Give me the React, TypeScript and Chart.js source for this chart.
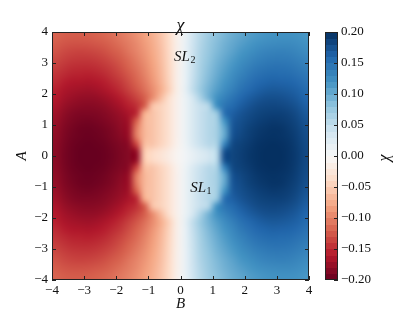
import React, { useEffect, useRef } from "react";
import { Chart, registerables } from "chart.js";

Chart.register(...registerables);

// ---------- data ----------
const B_CENTERS = [-3.875, -3.625, -3.375, -3.125, -2.875, -2.625, -2.375, -2.125, -1.875, -1.625, -1.375, -1.125, -0.875, -0.625, -0.375, -0.125,
  0.125, 0.375, 0.625, 0.875, 1.125, 1.375, 1.625, 1.875, 2.125, 2.375, 2.625, 2.875, 3.125, 3.375, 3.625, 3.875];
const A_CENTERS = [3.875, 3.625, 3.375, 3.125, 2.875, 2.625, 2.375, 2.125, 1.875, 1.625, 1.375, 1.125, 0.875, 0.625, 0.375, 0.125,
  -0.125, -0.375, -0.625, -0.875, -1.125, -1.375, -1.625, -1.875, -2.125, -2.375, -2.625, -2.875, -3.125, -3.375, -3.625, -3.875];

// chi values, one row per A (top to bottom), one column per B (left to right)
const CHI_ROWS = [
  [-.118,-.121,-.122,-.122,-.121,-.119,-.116,-.112,-.106,-.100,-.092,-.083,-.072,-.058,-.040,-.012, .012,.040,.058,.072,.083,.092,.100,.106,.112,.116,.119,.121,.122,.122,.121,.118],
  [-.122,-.126,-.128,-.128,-.127,-.125,-.122,-.117,-.111,-.104,-.096,-.086,-.075,-.060,-.041,-.013, .013,.041,.060,.075,.086,.096,.104,.111,.117,.122,.125,.127,.128,.128,.126,.122],
  [-.127,-.132,-.135,-.136,-.135,-.133,-.129,-.123,-.117,-.108,-.099,-.089,-.077,-.062,-.042,-.013, .013,.042,.062,.077,.089,.099,.108,.117,.123,.129,.133,.135,.136,.135,.132,.127],
  [-.133,-.138,-.141,-.142,-.142,-.140,-.136,-.130,-.123,-.114,-.104,-.093,-.080,-.064,-.043,-.013, .013,.043,.064,.080,.093,.104,.114,.123,.130,.136,.140,.142,.142,.141,.138,.133],
  [-.139,-.144,-.148,-.149,-.149,-.147,-.143,-.137,-.129,-.119,-.109,-.097,-.083,-.066,-.044,-.014, .014,.044,.066,.083,.097,.109,.119,.129,.137,.143,.147,.149,.149,.148,.144,.139],
  [-.145,-.150,-.154,-.155,-.156,-.154,-.150,-.143,-.135,-.125,-.114,-.101,-.086,-.068,-.045,-.014, .014,.045,.068,.086,.101,.114,.125,.135,.143,.150,.154,.156,.155,.154,.150,.145],
  [-.150,-.157,-.161,-.162,-.163,-.161,-.157,-.150,-.142,-.131,-.119,-.106,-.090,-.071,-.047,-.014, .014,.047,.071,.090,.106,.119,.131,.142,.150,.157,.161,.163,.162,.161,.157,.150],
  [-.156,-.163,-.167,-.169,-.170,-.168,-.164,-.157,-.149,-.138,-.126,-.112,-.095,-.075,-.049,-.015, .015,.049,.075,.095,.112,.126,.138,.149,.157,.164,.168,.170,.169,.167,.163,.156],
  [-.160,-.168,-.173,-.176,-.177,-.176,-.172,-.166,-.158,-.148,-.136,-.121,-.095,-.065,-.036,-.012, .012,.036,.065,.095,.121,.136,.148,.158,.166,.172,.176,.177,.176,.173,.168,.160],
  [-.165,-.174,-.179,-.182,-.183,-.182,-.179,-.173,-.166,-.156,-.147,-.122,-.060,-.047,-.032,-.011, .011,.032,.047,.060,.122,.147,.156,.166,.173,.179,.182,.183,.182,.179,.174,.165],
  [-.170,-.179,-.185,-.188,-.188,-.187,-.184,-.179,-.173,-.165,-.150,-.075,-.058,-.047,-.032,-.011, .011,.032,.047,.058,.075,.150,.165,.173,.179,.184,.187,.188,.188,.185,.179,.170],
  [-.174,-.183,-.189,-.192,-.193,-.191,-.188,-.183,-.177,-.169,-.120,-.068,-.058,-.047,-.032,-.011, .011,.032,.047,.058,.068,.120,.169,.177,.183,.188,.191,.193,.192,.189,.183,.174],
  [-.177,-.186,-.192,-.196,-.197,-.195,-.192,-.187,-.180,-.171,-.105,-.068,-.058,-.047,-.032,-.011, .011,.032,.047,.058,.068,.105,.171,.180,.187,.192,.195,.197,.196,.192,.186,.177],
  [-.179,-.188,-.194,-.197,-.198,-.197,-.194,-.189,-.183,-.174,-.105,-.068,-.058,-.047,-.032,-.011, .011,.032,.047,.058,.068,.105,.174,.183,.189,.194,.197,.198,.197,.194,.188,.179],
  [-.181,-.190,-.196,-.199,-.200,-.199,-.197,-.192,-.187,-.181,-.135,-.064,-.056,-.045,-.030,-.010, .010,.030,.045,.056,.064,.135,.181,.187,.192,.197,.199,.200,.199,.196,.190,.181],
  [-.182,-.191,-.197,-.200,-.200,-.200,-.198,-.194,-.189,-.184,-.176,-.055,-.040,-.030,-.018,-.006, .006,.018,.030,.040,.055,.176,.184,.189,.194,.198,.200,.200,.200,.197,.191,.182],
  [-.182,-.191,-.197,-.200,-.200,-.200,-.198,-.194,-.189,-.184,-.176,-.055,-.040,-.030,-.018,-.006, .006,.018,.030,.040,.055,.176,.184,.189,.194,.198,.200,.200,.200,.197,.191,.182],
  [-.181,-.190,-.196,-.199,-.200,-.199,-.197,-.192,-.187,-.181,-.135,-.064,-.056,-.045,-.030,-.010, .010,.030,.045,.056,.064,.135,.181,.187,.192,.197,.199,.200,.199,.196,.190,.181],
  [-.179,-.188,-.194,-.197,-.198,-.197,-.194,-.189,-.183,-.174,-.105,-.068,-.058,-.047,-.032,-.011, .011,.032,.047,.058,.068,.105,.174,.183,.189,.194,.197,.198,.197,.194,.188,.179],
  [-.177,-.186,-.192,-.196,-.197,-.195,-.192,-.187,-.180,-.171,-.105,-.068,-.058,-.047,-.032,-.011, .011,.032,.047,.058,.068,.105,.171,.180,.187,.192,.195,.197,.196,.192,.186,.177],
  [-.174,-.183,-.189,-.192,-.193,-.191,-.188,-.183,-.177,-.169,-.120,-.068,-.058,-.047,-.032,-.011, .011,.032,.047,.058,.068,.120,.169,.177,.183,.188,.191,.193,.192,.189,.183,.174],
  [-.170,-.179,-.185,-.188,-.188,-.187,-.184,-.179,-.173,-.165,-.150,-.075,-.058,-.047,-.032,-.011, .011,.032,.047,.058,.075,.150,.165,.173,.179,.184,.187,.188,.188,.185,.179,.170],
  [-.165,-.174,-.179,-.182,-.183,-.182,-.179,-.173,-.166,-.156,-.147,-.122,-.060,-.047,-.032,-.011, .011,.032,.047,.060,.122,.147,.156,.166,.173,.179,.182,.183,.182,.179,.174,.165],
  [-.160,-.168,-.173,-.176,-.177,-.176,-.172,-.166,-.158,-.148,-.136,-.121,-.095,-.065,-.036,-.012, .012,.036,.065,.095,.121,.136,.148,.158,.166,.172,.176,.177,.176,.173,.168,.160],
  [-.156,-.163,-.167,-.169,-.170,-.168,-.164,-.157,-.149,-.138,-.126,-.112,-.095,-.075,-.049,-.015, .015,.049,.075,.095,.112,.126,.138,.149,.157,.164,.168,.170,.169,.167,.163,.156],
  [-.150,-.157,-.161,-.162,-.163,-.161,-.157,-.150,-.142,-.131,-.119,-.106,-.090,-.071,-.047,-.014, .014,.047,.071,.090,.106,.119,.131,.142,.150,.157,.161,.163,.162,.161,.157,.150],
  [-.145,-.150,-.154,-.155,-.156,-.154,-.150,-.143,-.135,-.125,-.114,-.101,-.086,-.068,-.045,-.014, .014,.045,.068,.086,.101,.114,.125,.135,.143,.150,.154,.156,.155,.154,.150,.145],
  [-.139,-.144,-.148,-.149,-.149,-.147,-.143,-.137,-.129,-.119,-.109,-.097,-.083,-.066,-.044,-.014, .014,.044,.066,.083,.097,.109,.119,.129,.137,.143,.147,.149,.149,.148,.144,.139],
  [-.133,-.138,-.141,-.142,-.142,-.140,-.136,-.130,-.123,-.114,-.104,-.093,-.080,-.064,-.043,-.013, .013,.043,.064,.080,.093,.104,.114,.123,.130,.136,.140,.142,.142,.141,.138,.133],
  [-.127,-.132,-.135,-.136,-.135,-.133,-.129,-.123,-.117,-.108,-.099,-.089,-.077,-.062,-.042,-.013, .013,.042,.062,.077,.089,.099,.108,.117,.123,.129,.133,.135,.136,.135,.132,.127],
  [-.122,-.126,-.128,-.128,-.127,-.125,-.122,-.117,-.111,-.104,-.096,-.086,-.075,-.060,-.041,-.013, .013,.041,.060,.075,.086,.096,.104,.111,.117,.122,.125,.127,.128,.128,.126,.122],
  [-.118,-.121,-.122,-.122,-.121,-.119,-.116,-.112,-.106,-.100,-.092,-.083,-.072,-.058,-.040,-.012, .012,.040,.058,.072,.083,.092,.100,.106,.112,.116,.119,.121,.122,.122,.121,.118],
];

const X_TICKS = [-4, -3, -2, -1, 0, 1, 2, 3, 4];
const Y_TICKS = [-4, -3, -2, -1, 0, 1, 2, 3, 4];
const CBAR_TICKS = [-0.2, -0.15, -0.1, -0.05, 0, 0.05, 0.1, 0.15, 0.2];
const VMIN = -0.2;
const VMAX = 0.2;

const ANNOTATIONS = [
  { main: "SL", sub: "2", b: -0.2, a: 3.19 },
  { main: "SL", sub: "1", b: 0.3, a: -1.03 },
];

const TITLE = "χ";
const X_LABEL = "B";
const Y_LABEL = "A";
const CBAR_LABEL = "χ";

// ---------- style ----------
const FONT = "'Liberation Serif', 'DejaVu Serif', serif";
const RDBU: number[][] = [
  [103, 0, 31], [178, 24, 43], [214, 96, 77], [244, 165, 130], [253, 219, 199],
  [247, 247, 247], [209, 229, 240], [146, 197, 222], [67, 147, 195], [33, 102, 172], [5, 48, 97],
];

function cmap(v: number): number[] {
  let t = (v - VMIN) / (VMAX - VMIN);
  t = Math.max(0, Math.min(1, t));
  const s = t * (RDBU.length - 1);
  const i = Math.min(Math.floor(s), RDBU.length - 2);
  const f = s - i;
  const c0 = RDBU[i], c1 = RDBU[i + 1];
  return [0, 1, 2].map((k) => Math.round(c0[k] + (c1[k] - c0[k]) * f));
}

const fmtInt = (v: number) => (v < 0 ? "\u2212" + Math.abs(v) : String(v));
const fmtCbar = (v: number) => (v < 0 ? "\u2212" + Math.abs(v).toFixed(2) : Math.abs(v).toFixed(2));

const heatmapPlugin = {
  id: "heatmap",
  beforeDatasetsDraw(chart: any) {
    const { ctx } = chart;
    const x = chart.scales.x, y = chart.scales.y;
    const nx = B_CENTERS.length, ny = A_CENTERS.length;
    const off = document.createElement("canvas");
    off.width = nx;
    off.height = ny;
    const octx = off.getContext("2d")!;
    const img = octx.createImageData(nx, ny);
    for (let j = 0; j < ny; j++) {
      for (let i = 0; i < nx; i++) {
        const c = cmap(CHI_ROWS[j][i]);
        const p = (j * nx + i) * 4;
        img.data[p] = c[0];
        img.data[p + 1] = c[1];
        img.data[p + 2] = c[2];
        img.data[p + 3] = 255;
      }
    }
    octx.putImageData(img, 0, 0);
    const dB = B_CENTERS[1] - B_CENTERS[0];
    const dA = A_CENTERS[0] - A_CENTERS[1];
    const x0 = x.getPixelForValue(B_CENTERS[0] - dB / 2);
    const x1 = x.getPixelForValue(B_CENTERS[nx - 1] + dB / 2);
    const y0 = y.getPixelForValue(A_CENTERS[0] + dA / 2);
    const y1 = y.getPixelForValue(A_CENTERS[ny - 1] - dA / 2);
    ctx.save();
    ctx.imageSmoothingEnabled = true;
    ctx.imageSmoothingQuality = "high";
    ctx.drawImage(off, x0, y0, x1 - x0, y1 - y0);
    ctx.restore();
  },
  afterDraw(chart: any) {
    const { ctx, chartArea: ca } = chart;
    const x = chart.scales.x, y = chart.scales.y;
    ctx.save();
    ctx.strokeStyle = "#222";
    ctx.lineWidth = 1;
    ctx.strokeRect(Math.round(ca.left) + 0.5, Math.round(ca.top) + 0.5, Math.round(ca.right - ca.left) - 1, Math.round(ca.bottom - ca.top) - 1);
    ctx.beginPath();
    const tl = 4;
    X_TICKS.forEach((v) => {
      const px = Math.round(x.getPixelForValue(v)) + 0.5;
      ctx.moveTo(px, ca.bottom);
      ctx.lineTo(px, ca.bottom - tl);
      ctx.moveTo(px, ca.top);
      ctx.lineTo(px, ca.top + tl);
    });
    Y_TICKS.forEach((v) => {
      const py = Math.round(y.getPixelForValue(v)) + 0.5;
      ctx.moveTo(ca.left, py);
      ctx.lineTo(ca.left + tl, py);
      ctx.moveTo(ca.right, py);
      ctx.lineTo(ca.right - tl, py);
    });
    ctx.stroke();

    // annotations
    ctx.fillStyle = "#111";
    ctx.textBaseline = "middle";
    ctx.textAlign = "left";
    ANNOTATIONS.forEach((an) => {
      const px = x.getPixelForValue(an.b);
      const py = y.getPixelForValue(an.a);
      ctx.font = `italic 15px ${FONT}`;
      ctx.fillText(an.main, px, py);
      const w = ctx.measureText(an.main).width;
      ctx.font = `10px ${FONT}`;
      ctx.fillText(an.sub, px + w + 0.5, py + 3);
    });

    // title
    ctx.font = `italic 18px ${FONT}`;
    ctx.textAlign = "center";
    ctx.textBaseline = "alphabetic";
    ctx.fillText(TITLE, (ca.left + ca.right) / 2, ca.top - 1);
    ctx.restore();
  },
};

const cbarPlugin = {
  id: "cbar",
  beforeDatasetsDraw(chart: any) {
    const { ctx, chartArea: ca } = chart;
    const y = chart.scales.y;
    const nBands = 40;
    const step = (VMAX - VMIN) / nBands;
    ctx.save();
    for (let k = 0; k < nBands; k++) {
      const lo = VMIN + k * step;
      const hi = lo + step;
      const c = cmap(lo + step / 2);
      const yTop = y.getPixelForValue(hi);
      const yBot = y.getPixelForValue(lo);
      ctx.fillStyle = `rgb(${c[0]},${c[1]},${c[2]})`;
      ctx.fillRect(ca.left, Math.floor(yTop), ca.right - ca.left, Math.ceil(yBot) - Math.floor(yTop));
    }
    ctx.restore();
  },
  afterDraw(chart: any) {
    const { ctx, chartArea: ca } = chart;
    const y = chart.scales.y;
    ctx.save();
    ctx.strokeStyle = "#222";
    ctx.lineWidth = 1;
    ctx.strokeRect(Math.round(ca.left) + 0.5, Math.round(ca.top) + 0.5, Math.round(ca.right - ca.left) - 1, Math.round(ca.bottom - ca.top) - 1);
    ctx.beginPath();
    CBAR_TICKS.forEach((v) => {
      const py = Math.round(y.getPixelForValue(v)) + 0.5;
      ctx.moveTo(ca.right, py);
      ctx.lineTo(ca.right - 4, py);
    });
    ctx.stroke();
    ctx.translate(85, (ca.top + ca.bottom) / 2 + 2);
    ctx.rotate(-Math.PI / 2);
    ctx.font = `italic 16px ${FONT}`;
    ctx.fillStyle = "#111";
    ctx.textAlign = "center";
    ctx.textBaseline = "middle";
    ctx.fillText(CBAR_LABEL, 0, 0);
    ctx.restore();
  },
};

export default function App() {
  const mainRef = useRef<HTMLCanvasElement>(null);
  const cbarRef = useRef<HTMLCanvasElement>(null);

  useEffect(() => {
    const tickFont = { family: FONT, size: 13 };
    const main = new Chart(mainRef.current!, {
      type: "scatter",
      data: { datasets: [{ data: [] }] },
      options: {
        animation: false,
        responsive: false,
        devicePixelRatio: 1,
        layout: { padding: { left: 0, right: 106, top: 32, bottom: 0 } },
        plugins: { legend: { display: false }, tooltip: { enabled: false }, title: { display: false } },
        scales: {
          x: {
            type: "linear",
            min: -4,
            max: 4,
            afterBuildTicks: (s: any) => { s.ticks = X_TICKS.map((v) => ({ value: v })); },
            afterFit: (s: any) => { s.height = 32; },
            ticks: { font: tickFont, color: "#111", padding: 3, maxRotation: 0, autoSkip: false, callback: (v: any) => fmtInt(Number(v)) },
            grid: { display: false, drawTicks: false },
            border: { display: false },
            title: { display: true, text: X_LABEL, color: "#111", font: { family: FONT, size: 15, style: "italic", lineHeight: 1 }, padding: { top: 0, bottom: 0 } },
          },
          y: {
            type: "linear",
            min: -4,
            max: 4,
            afterBuildTicks: (s: any) => { s.ticks = Y_TICKS.map((v) => ({ value: v })); },
            afterFit: (s: any) => { s.width = 52; },
            ticks: { font: tickFont, color: "#111", padding: 4, autoSkip: false, callback: (v: any) => fmtInt(Number(v)) },
            grid: { display: false, drawTicks: false },
            border: { display: false },
            title: { display: true, text: Y_LABEL, color: "#111", font: { family: FONT, size: 15, style: "italic", lineHeight: 1 }, padding: { top: 15, bottom: 0 } },
          },
        },
      },
      plugins: [heatmapPlugin],
    } as any);

    const cbar = new Chart(cbarRef.current!, {
      type: "scatter",
      data: { datasets: [{ data: [] }] },
      options: {
        animation: false,
        responsive: false,
        devicePixelRatio: 1,
        layout: { padding: { left: 25, right: 0, top: 32, bottom: 32 } },
        plugins: { legend: { display: false }, tooltip: { enabled: false } },
        scales: {
          x: { type: "linear", display: false, min: 0, max: 1 },
          y: {
            type: "linear",
            position: "right",
            min: VMIN,
            max: VMAX,
            afterBuildTicks: (s: any) => { s.ticks = CBAR_TICKS.map((v) => ({ value: v })); },
            afterFit: (s: any) => { s.width = 77; },
            ticks: { font: tickFont, color: "#111", padding: 3, autoSkip: false, callback: (v: any) => fmtCbar(Number(v)) },
            grid: { display: false, drawTicks: false },
            border: { display: false },
          },
        },
      },
      plugins: [cbarPlugin],
    } as any);

    return () => {
      main.destroy();
      cbar.destroy();
    };
  }, []);

  return (
    <div style={{ position: "absolute", left: 0, top: 0, width: 415, height: 312, background: "#fff" }}>
      <canvas ref={mainRef} width={415} height={312} style={{ position: "absolute", left: 0, top: 0, width: 415, height: 312 }} />
      <canvas ref={cbarRef} width={115} height={312} style={{ position: "absolute", left: 300, top: 0, width: 115, height: 312 }} />
    </div>
  );
}
